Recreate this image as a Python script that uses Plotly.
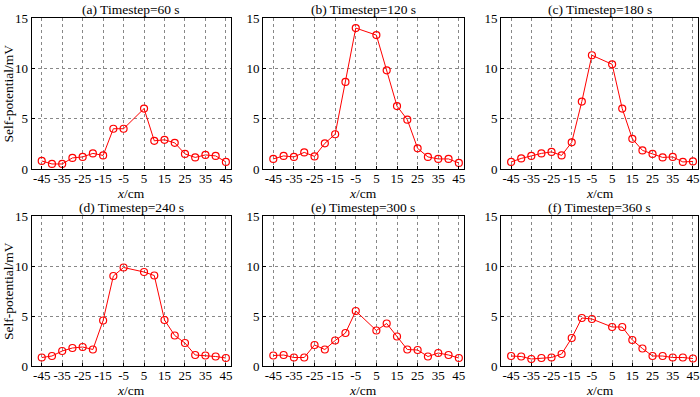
import plotly.graph_objects as go

x_cm = [-45, -40, -35, -30, -25, -20, -15, -10, -5, 5, 10, 15, 20, 25, 30, 35, 40, 45]
sp_60 = [0.8, 0.5, 0.5, 1.1, 1.2, 1.55, 1.35, 4.0, 4.0, 6.0, 2.8, 2.9, 2.6, 1.5, 1.15, 1.4, 1.3, 0.7]
sp_120 = [1.0, 1.3, 1.2, 1.65, 1.25, 2.55, 3.45, 8.65, 14.0, 13.3, 9.8, 6.25, 4.9, 2.05, 1.2, 1.0, 1.0, 0.6]
sp_180 = [0.7, 1.05, 1.3, 1.55, 1.7, 1.35, 2.65, 6.7, 11.3, 10.4, 6.0, 3.0, 1.85, 1.5, 1.15, 1.2, 0.7, 0.75]
sp_240 = [0.85, 1.0, 1.5, 1.8, 1.9, 1.65, 4.55, 9.0, 9.85, 9.4, 9.05, 4.6, 3.05, 2.3, 1.1, 1.05, 0.95, 0.8]
sp_300 = [1.05, 1.1, 0.85, 0.85, 2.1, 1.65, 2.55, 3.3, 5.5, 3.55, 4.25, 2.95, 1.65, 1.6, 0.95, 1.3, 1.1, 0.8]
sp_360 = [1.0, 0.95, 0.7, 0.8, 0.85, 1.2, 2.8, 4.8, 4.7, 3.9, 3.9, 2.6, 1.75, 1.0, 1.0, 0.85, 0.85, 0.75]
titles = ["(a) Timestep=60 s", "(b) Timestep=120 s", "(c) Timestep=180 s",
          "(d) Timestep=240 s", "(e) Timestep=300 s", "(f) Timestep=360 s"]
x_ticks = [-45, -35, -25, -15, -5, 5, 15, 25, 35, 45]
y_ticks = [0, 5, 10, 15]
series = [sp_60, sp_120, sp_180, sp_240, sp_300, sp_360]

W, H = 700, 397
FONT = "Liberation Serif"
xdoms = [(31.5, 231), (263, 464), (501, 698)]
ydoms = [(18, 169), (216, 366)]

fig = go.Figure()
layout = dict(width=W, height=H,
              margin=dict(l=0, r=0, t=0, b=0, pad=0, autoexpand=False),
              paper_bgcolor="white", plot_bgcolor="white", showlegend=False,
              font=dict(family=FONT, size=13, color="black"))
annotations = []
for i, (ys, title) in enumerate(zip(series, titles)):
    r, c = divmod(i, 3)
    n = i + 1
    xa = "xaxis" if n == 1 else f"xaxis{n}"
    ya = "yaxis" if n == 1 else f"yaxis{n}"
    xr = "x" if n == 1 else f"x{n}"
    yr = "y" if n == 1 else f"y{n}"
    fig.add_trace(go.Scatter(x=x_cm, y=ys, mode="lines+markers", xaxis=xr, yaxis=yr,
                             line=dict(color="#ff0000", width=1),
                             marker=dict(symbol="circle-open", size=7,
                                         color="#ff0000", line=dict(width=1.2))))
    x0, x1 = xdoms[c]
    y0, y1 = ydoms[r]
    layout[xa] = dict(domain=[x0 / W, x1 / W], range=[-50, 47.5], anchor=yr,
                      tickvals=x_ticks, ticktext=[str(v) for v in x_ticks],
                      showgrid=True, gridcolor="#888", griddash="dot", gridwidth=1,
                      showline=True, linecolor="black", linewidth=1, mirror=True,
                      ticks="inside", ticklen=3, tickcolor="black", zeroline=False,
                      ticklabelstandoff=-3,
                      automargin=False, tickfont=dict(family=FONT, size=13))
    layout[ya] = dict(domain=[1 - y1 / H, 1 - y0 / H], range=[0, 15], anchor=xr,
                      tickvals=y_ticks, showgrid=True, gridcolor="#888", griddash="dot",
                      gridwidth=1, showline=True, linecolor="black", linewidth=1,
                      mirror=True, ticks="inside", ticklen=3, tickcolor="black",
                      zeroline=False, automargin=False,
                      tickfont=dict(family=FONT, size=13))
    annotations.append(dict(text=title, xref="paper", yref="paper",
                            x=(x0 + x1) / 2 / W, y=1 - (y0 - 9) / H,
                            xanchor="center", yanchor="middle", showarrow=False,
                            font=dict(family=FONT, size=13.5)))
    annotations.append(dict(text="<i>x</i>/cm", xref="paper", yref="paper",
                            x=(x0 + x1) / 2 / W, y=1 - (y1 + 24) / H,
                            xanchor="center", yanchor="middle", showarrow=False,
                            font=dict(family=FONT, size=13.5)))
    if c == 0:
        annotations.append(dict(text="Self-potential/mV", xref="paper", yref="paper",
                                x=8 / W, y=1 - (y0 + y1) / 2 / H, textangle=-90,
                                xanchor="center", yanchor="middle", showarrow=False,
                                font=dict(family=FONT, size=13.5)))
layout["annotations"] = annotations
fig.update_layout(**layout)
fig.write_html("out.html", config={"displayModeBar": False},
               post_script="document.body.style.margin='0px';document.body.style.overflow='hidden';")
